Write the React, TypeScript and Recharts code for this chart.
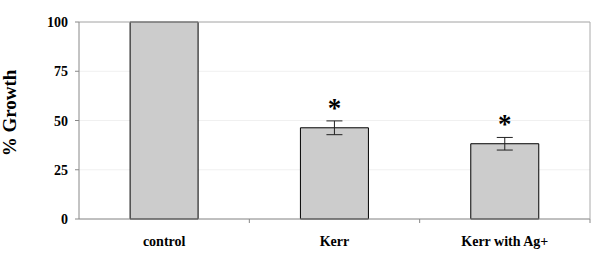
import React from 'react';
import { BarChart, Bar, XAxis, YAxis, CartesianGrid, ErrorBar, ReferenceLine, ReferenceDot } from 'recharts';

const categories = ['control', 'Kerr', 'Kerr with Ag+'];
const growth = [100, 46.3, 38.2];
const errors = [0, 3.5, 3.2];
const significant = [false, true, true];
const yTicks = [0, 25, 50, 75, 100];

const data = categories.map((c, i) => ({ name: c, growth: growth[i], err: errors[i], sig: significant[i] }));

const FONT = '"Liberation Serif", "Times New Roman", serif';
const W = 600;
const H = 264;
const M = { top: 22, right: 0, left: 0, bottom: 0 };
const YW = 79;
const RW = 10;
const XH = 45;
const bandHalf = (W - YW - RW) / categories.length / 2;

const XTick = (props: any) => {
  const { x, y, payload } = props;
  return (
    <g>
      <line x1={x + bandHalf} x2={x + bandHalf} y1={y} y2={y + 4} stroke="#888" strokeWidth={1} />
      <text x={x} y={y + 27} textAnchor="middle" fontFamily={FONT} fontWeight="bold" fontSize={14} fill="#000">
        {payload.value}
      </text>
    </g>
  );
};

const YTick = (props: any) => {
  const { x, y, payload } = props;
  return (
    <text x={x} y={y + 5} textAnchor="end" fontFamily={FONT} fontWeight="bold" fontSize={14} fill="#000">
      {payload.value}
    </text>
  );
};

export default function App() {
  return (
    <div style={{ position: 'absolute', left: 0, top: 0, width: W, height: H, background: '#fff' }}>
      <BarChart width={W} height={H} data={data} margin={M} barCategoryGap="30%">
        <CartesianGrid vertical={false} stroke="#f0f0f0" yAxisId="left" />
        <XAxis
          dataKey="name"
          tick={<XTick />}
          tickLine={false}
          tickSize={0}
          tickMargin={0}
          height={XH}
          axisLine={{ stroke: '#888' }}
          interval={0}
        />
        <YAxis
          yAxisId="left"
          domain={[0, 100]}
          ticks={yTicks}
          width={YW}
          tick={<YTick />}
          tickSize={4}
          tickMargin={7}
          tickLine={{ stroke: '#888' }}
          axisLine={{ stroke: '#888' }}
          label={{
            content: () => (
              <text
                x={0}
                y={0}
                transform="translate(16,113) rotate(-90)"
                textAnchor="middle"
                fontFamily={FONT}
                fontWeight="bold"
                fontSize={19}
                fill="#000"
              >
                % Growth
              </text>
            ),
          }}
        />
        <YAxis
          yAxisId="right"
          orientation="right"
          domain={[0, 100]}
          width={RW}
          tick={false}
          tickLine={false}
          axisLine={{ stroke: '#aaa' }}
        />
        <ReferenceLine yAxisId="left" y={100} stroke="#aaa" />
        <Bar yAxisId="left" dataKey="growth" fill="#cccccc" stroke="#000" strokeWidth={1} isAnimationActive={false}>
          <ErrorBar dataKey="err" width={8} stroke="#222" strokeWidth={1} direction="y" />
        </Bar>
        {data
          .filter((d) => d.sig)
          .map((d) => (
            <ReferenceDot
              key={d.name}
              yAxisId="left"
              x={d.name}
              y={d.growth + d.err}
              r={0}
              fill="none"
              stroke="none"
              label={{
                content: (p: any) => (
                  <text
                    x={p.viewBox.x}
                    y={p.viewBox.y - 4}
                    textAnchor="middle"
                    fontFamily={FONT}
                    fontWeight="bold"
                    fontSize={27}
                    fill="#000"
                  >
                    *
                  </text>
                ),
              }}
            />
          ))}
      </BarChart>
    </div>
  );
}
